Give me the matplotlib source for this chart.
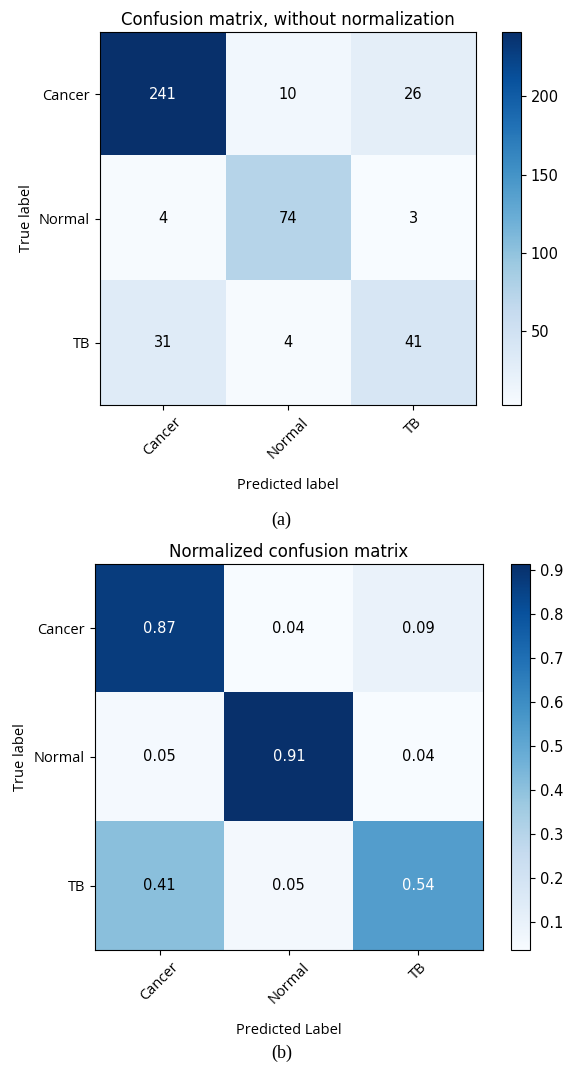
import numpy as np
from matplotlib import pyplot as plt

# Class names and raw counts (rows = true, cols = predicted)
classes = ["Cancer", "Normal", "TB"]
counts = np.array([[241, 10, 26],
                   [4, 74, 3],
                   [31, 4, 41]])

# Normalized by row
norm = counts / counts.sum(axis=1, keepdims=True)

LABEL_FONT = ["Open Sans", "DejaVu Sans"]

fig = plt.figure(figsize=(5.68, 10.67), dpi=100)


def draw_cm(ax, cax, cm, title, xlabel, fmt, cticks):
    im = ax.imshow(cm, interpolation="nearest", cmap=plt.cm.Blues, aspect="auto")
    ax.set_title(title, fontsize=12, pad=5)
    cb = fig.colorbar(im, cax=cax)
    cb.set_ticks(cticks)
    cb.ax.tick_params(labelsize=10.5)
    ticks = np.arange(len(classes))
    ax.set_xticks(ticks)
    ax.set_xticklabels(classes, rotation=45, fontsize=10.5, family=LABEL_FONT)
    ax.set_yticks(ticks)
    ax.set_yticklabels(classes, fontsize=10.5, family=LABEL_FONT)
    thresh = cm.max() / 2.0
    for i in range(cm.shape[0]):
        for j in range(cm.shape[1]):
            ax.text(j, i, format(cm[i, j], fmt), ha="center", va="center",
                    fontsize=10.5,
                    color="white" if cm[i, j] > thresh else "black")
    ax.set_ylabel("True label", fontsize=10.5, family=LABEL_FONT)
    ax.set_xlabel(xlabel, fontsize=10.5, family=LABEL_FONT, labelpad=12)


# (a) raw counts
ax1 = fig.add_axes([0.176, 0.6204, 0.662, 0.3496])
cax1 = fig.add_axes([0.884, 0.6204, 0.0335, 0.3496])
draw_cm(ax1, cax1, counts, "Confusion matrix, without normalization",
        "Predicted label", "d", [50, 100, 150, 200])

# (b) normalized
ax2 = fig.add_axes([0.167, 0.1097, 0.683, 0.3617])
cax2 = fig.add_axes([0.900, 0.1097, 0.0335, 0.3617])
draw_cm(ax2, cax2, norm, "Normalized confusion matrix",
        "Predicted Label", ".2f", np.arange(0.1, 0.95, 0.1))

fig.text(0.496, 1 - 520 / 1067, "(a)", ha="center", va="center",
         fontsize=13, family="Liberation Serif")
fig.text(0.496, 1 - 1053 / 1067, "(b)", ha="center", va="center",
         fontsize=13, family="Liberation Serif")

fig.savefig("out.png", dpi=100)
